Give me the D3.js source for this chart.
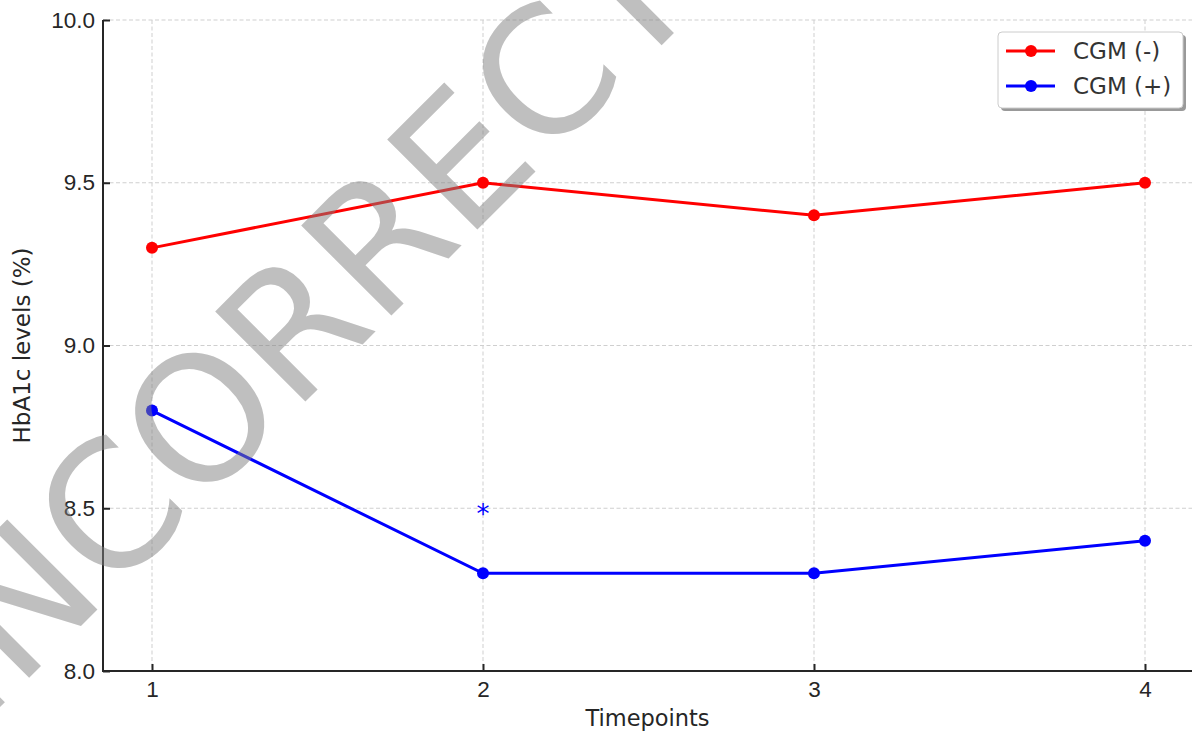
<!DOCTYPE html>
<html lang="en">
<head>
    <meta charset="UTF-8">
    <title>HbA1c levels</title>
    <script src="https://d3js.org/d3.v7.min.js"></script>
    <style>
        body {
            margin: 0;
            background: #fff;
        }
        svg {
            display: block;
            font-family: "DejaVu Sans", sans-serif;
        }
        .grid line {
            stroke: #cfcfcf;
            stroke-width: 1;
            stroke-dasharray: 4 2.5;
        }
        .axis path, .axis line {
            stroke: #262626;
            stroke-width: 2;
        }
        .axis text {
            fill: #262626;
            font-size: 22.5px;
        }
    </style>
</head>
<body>
    <div id="chart"></div>
    <script>
        const width = 1192;
        const height = 735;

        // Daten
        const timepoints = [1, 2, 3, 4];
        const cgmMinus = [9.3, 9.5, 9.4, 9.5];
        const cgmPlus = [8.8, 8.3, 8.3, 8.4];
        const yTicks = [8.0, 8.5, 9.0, 9.5, 10.0];
        const seriesNames = ["CGM (-)", "CGM (+)"];
        const seriesColors = ["#ff0000", "#0000ff"];
        const starPoint = {x: 2, y: 8.5};
        const watermark = "INCORRECT";

        const margin = {top: 20, left: 103, bottom: 64};

        const svg = d3.select("#chart").append("svg")
            .attr("width", width)
            .attr("height", height);

        // x: 1 -> 152, 4 -> 1145
        const x = d3.scaleLinear()
            .domain([1, 4])
            .range([152, 1145]);
        const y = d3.scaleLinear()
            .domain([8, 10])
            .range([height - margin.bottom, margin.top]);

        const x0 = margin.left;
        const x1 = width;

        // Gitterlinien
        const grid = svg.append("g").attr("class", "grid");
        grid.selectAll(".gy")
            .data(yTicks.filter(d => d > 8))
            .join("line")
            .attr("x1", x0).attr("x2", x1)
            .attr("y1", d => y(d)).attr("y2", d => y(d));
        grid.selectAll(".gx")
            .data(timepoints)
            .join("line")
            .attr("class", "gx")
            .attr("x1", d => x(d)).attr("x2", d => x(d))
            .attr("y1", y(10)).attr("y2", y(8));

        // Linien und Punkte
        const series = [cgmMinus, cgmPlus];
        const line = d3.line()
            .x((d, i) => x(timepoints[i]))
            .y(d => y(d));

        series.forEach((values, s) => {
            svg.append("path")
                .datum(values)
                .attr("fill", "none")
                .attr("stroke", seriesColors[s])
                .attr("stroke-width", 3)
                .attr("d", line);
            svg.selectAll(".pt" + s)
                .data(values)
                .join("circle")
                .attr("class", "pt" + s)
                .attr("cx", (d, i) => x(timepoints[i]))
                .attr("cy", d => y(d))
                .attr("r", 6)
                .attr("fill", seriesColors[s]);
        });

        // Achsen (Ticks nach innen)
        const yAxis = d3.axisLeft(y)
            .tickValues(yTicks)
            .tickFormat(d3.format(".1f"))
            .tickSizeInner(-7)
            .tickSizeOuter(0)
            .tickPadding(8);
        svg.append("g")
            .attr("class", "axis")
            .attr("transform", `translate(${x0},0)`)
            .call(yAxis)
            .call(g => g.select(".domain").remove())
            .call(g => g.append("line")
                .attr("x1", 0).attr("x2", 0)
                .attr("y1", y(10)).attr("y2", y(8) + 1));

        const xAxis = d3.axisBottom(x)
            .tickValues(timepoints)
            .tickFormat(d3.format("d"))
            .tickSizeInner(-7)
            .tickSizeOuter(0)
            .tickPadding(10);
        svg.append("g")
            .attr("class", "axis")
            .attr("transform", `translate(0,${y(8)})`)
            .call(xAxis)
            .call(g => g.select(".domain").remove())
            .call(g => g.append("line")
                .attr("x1", x0 - 1).attr("x2", x1)
                .attr("y1", 0).attr("y2", 0));

        // Achsenbeschriftungen
        svg.append("text")
            .attr("x", (x0 + x1) / 2)
            .attr("y", 726)
            .attr("text-anchor", "middle")
            .attr("font-size", "22.5px")
            .attr("fill", "#262626")
            .text("Timepoints");

        svg.append("text")
            .attr("transform", `translate(30,${(y(8) + y(10)) / 2}) rotate(-90)`)
            .attr("text-anchor", "middle")
            .attr("font-size", "23px")
            .attr("fill", "#262626")
            .text("HbA1c levels (%)");

        // Stern (Signifikanz)
        svg.append("text")
            .attr("x", x(starPoint.x))
            .attr("y", y(starPoint.y) + 15)
            .attr("text-anchor", "middle")
            .attr("font-size", "26px")
            .attr("fill", "#0000ff")
            .text("*");

        // Legende
        const legend = svg.append("g")
            .attr("transform", "translate(998,32)");
        legend.append("rect")
            .attr("x", 3).attr("y", 3)
            .attr("width", 185).attr("height", 76)
            .attr("rx", 4)
            .attr("fill", "#999");
        legend.append("rect")
            .attr("width", 185).attr("height", 76)
            .attr("rx", 4)
            .attr("fill", "#fff")
            .attr("stroke", "#cccccc")
            .attr("stroke-width", 1);

        seriesNames.forEach((name, i) => {
            const row = legend.append("g")
                .attr("transform", `translate(0,${19 + i * 35})`);
            row.append("line")
                .attr("x1", 8).attr("x2", 57)
                .attr("stroke", seriesColors[i])
                .attr("stroke-width", 3);
            row.append("circle")
                .attr("cx", 33).attr("r", 6)
                .attr("fill", seriesColors[i]);
            row.append("text")
                .attr("x", 75)
                .attr("y", 8)
                .attr("font-size", "23px")
                .attr("fill", "#333")
                .text(name);
        });

        // Wasserzeichen
        svg.append("text")
            .attr("transform", "translate(343,364) rotate(-45)")
            .attr("text-anchor", "middle")
            .attr("font-size", "175px")
            .attr("fill", "#808080")
            .attr("fill-opacity", 0.5)
            .text(watermark);
    </script>
</body>
</html>
